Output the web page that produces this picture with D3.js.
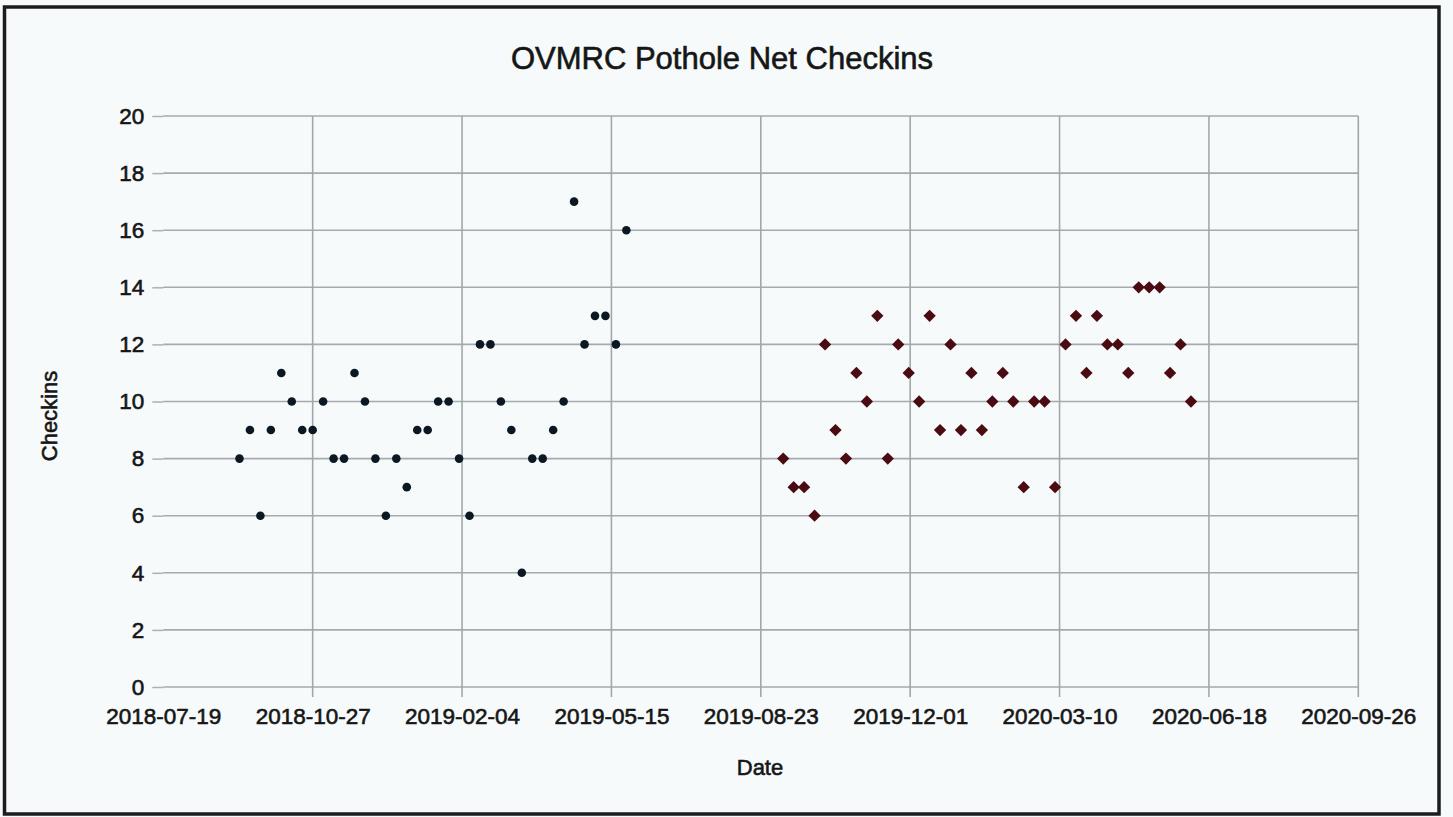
<!DOCTYPE html>
<meta charset="utf-8">
<style>
  html, body { margin: 0; padding: 0; background: #f7fafb; }
  svg { display: block; font-family: "Liberation Sans", Arial, sans-serif; }
  text { stroke: #161616; stroke-width: 0.6px; }
</style>
<svg width="1453" height="817"></svg>
<script src="https://cdn.jsdelivr.net/npm/d3@7"></script>
<script>
// weekly net checkins, first season (dark points)
const season1Dates = [
  "2018-09-08","2018-09-15","2018-09-22","2018-09-29","2018-10-06","2018-10-13","2018-10-20","2018-10-27",
  "2018-11-03","2018-11-10","2018-11-17","2018-11-24","2018-12-01","2018-12-08","2018-12-15","2018-12-22",
  "2018-12-29","2019-01-05","2019-01-12","2019-01-19","2019-01-26","2019-02-02","2019-02-09","2019-02-16",
  "2019-02-23","2019-03-02","2019-03-09","2019-03-16","2019-03-23","2019-03-30","2019-04-06","2019-04-13",
  "2019-04-20","2019-04-27","2019-05-04","2019-05-11","2019-05-18","2019-05-25"
]
const season1Checkins = [
  8, 9, 6, 9, 11, 10, 9, 9,
  10, 8, 8, 11, 10, 8, 6, 8,
  7, 9, 9, 10, 10, 8, 6, 12,
  12, 10, 9, 4, 8, 8, 9, 10,
  17, 12, 13, 13, 12, 16
]

// second season (dark red diamonds)
const season2Dates = [
  "2019-09-07","2019-09-14","2019-09-21","2019-09-28","2019-10-05","2019-10-12","2019-10-19","2019-10-26",
  "2019-11-02","2019-11-09","2019-11-16","2019-11-23","2019-11-30","2019-12-07","2019-12-14","2019-12-21",
  "2019-12-28","2020-01-04","2020-01-11","2020-01-18","2020-01-25","2020-02-01","2020-02-08","2020-02-15",
  "2020-02-22","2020-02-29","2020-03-07","2020-03-14","2020-03-21","2020-03-28","2020-04-04","2020-04-11",
  "2020-04-18","2020-04-25","2020-05-02","2020-05-09","2020-05-16","2020-05-23","2020-05-30","2020-06-06"
]
const season2Checkins = [
  8, 7, 7, 6, 12, 9, 8, 11,
  10, 13, 8, 12, 11, 10, 13, 9,
  12, 9, 11, 9, 10, 11, 10, 7,
  10, 10, 7, 12, 13, 11, 13, 12,
  12, 11, 14, 14, 14, 11, 12, 10
]

const dateTicks = ["2018-07-19","2018-10-27","2019-02-04","2019-05-15","2019-08-23","2019-12-01","2020-03-10","2020-06-18","2020-09-26"]
const checkinTicks = [0, 2, 4, 6, 8, 10, 12, 14, 16, 18, 20]

const parse = d3.utcParse("%Y-%m-%d")
const fmt = d3.utcFormat("%Y-%m-%d")

const svg = d3.select("svg")
const plotLeft = 163.3, plotRight = 1358.3, plotTop = 116, plotBottom = 687

const x = d3.scaleUtc()
  .domain([parse(dateTicks[0]), parse(dateTicks[dateTicks.length - 1])])
  .range([plotLeft, plotRight])
const y = d3.scaleLinear().domain([0, 20]).range([plotBottom, plotTop])

// frame
svg.append("rect")
  .attr("x", 4.5).attr("y", 7).attr("width", 1434.5).attr("height", 807)
  .attr("fill", "#f7fafb").attr("stroke", "#1c1c1c").attr("stroke-width", 3.5)

// title
svg.append("text")
  .attr("x", 722).attr("y", 69)
  .attr("text-anchor", "middle")
  .attr("font-size", 31)
  .attr("fill", "#161616")
  .text("OVMRC Pothole Net Checkins")

// horizontal grid + y axis
const yAxis = svg.append("g")
  .attr("transform", `translate(${plotLeft},0)`)
  .call(d3.axisLeft(y).tickValues(checkinTicks).tickSize(11).tickPadding(8).tickFormat(d3.format("d")))
yAxis.select(".domain").remove()
yAxis.selectAll(".tick line").attr("stroke", "#a9b1b4").attr("stroke-width", 1.5)
yAxis.selectAll(".tick text").attr("font-size", 22.5).attr("fill", "#161616")
  .attr("font-family", "Liberation Sans, Arial, sans-serif")

svg.append("g")
  .selectAll("line")
  .data(checkinTicks)
  .join("line")
  .attr("x1", plotLeft).attr("x2", plotRight)
  .attr("y1", d => y(d)).attr("y2", d => y(d))
  .attr("stroke", "#a3abae").attr("stroke-width", 1.6)

// vertical grid + x axis
const tickDates = dateTicks.map(parse)
svg.append("g")
  .selectAll("line")
  .data(tickDates.slice(1))
  .join("line")
  .attr("x1", d => x(d)).attr("x2", d => x(d))
  .attr("y1", plotTop).attr("y2", plotBottom + 10)
  .attr("stroke", "#a0a8ab").attr("stroke-width", 1.6)

const xAxis = svg.append("g")
  .attr("transform", `translate(0,${plotBottom})`)
  .call(d3.axisBottom(x).tickValues(tickDates).tickSize(0).tickPadding(21).tickFormat(fmt))
xAxis.select(".domain").remove()
xAxis.selectAll(".tick text").attr("font-size", 22.5).attr("fill", "#161616")
  .attr("font-family", "Liberation Sans, Arial, sans-serif")

// axis titles
svg.append("text")
  .attr("transform", "translate(57,416) rotate(-90)")
  .attr("text-anchor", "middle")
  .attr("font-size", 22)
  .attr("fill", "#161616")
  .text("Checkins")

svg.append("text")
  .attr("x", 760).attr("y", 775)
  .attr("text-anchor", "middle")
  .attr("font-size", 22)
  .attr("fill", "#161616")
  .text("Date")

// points
const s1 = season1Dates.map((d, i) => ({ date: parse(d), value: season1Checkins[i] }))
const s2 = season2Dates.map((d, i) => ({ date: parse(d), value: season2Checkins[i] }))

svg.append("g")
  .selectAll("circle")
  .data(s1)
  .join("circle")
  .attr("cx", d => x(d.date))
  .attr("cy", d => y(d.value))
  .attr("r", 4.3)
  .attr("fill", "#0b1824")

const diamond = d3.symbol().type(d3.symbolSquare).size(76)
svg.append("g")
  .selectAll("path")
  .data(s2)
  .join("path")
  .attr("d", diamond)
  .attr("transform", d => `translate(${x(d.date)},${y(d.value)}) rotate(45)`)
  .attr("fill", "#4a0b13")
</script>
